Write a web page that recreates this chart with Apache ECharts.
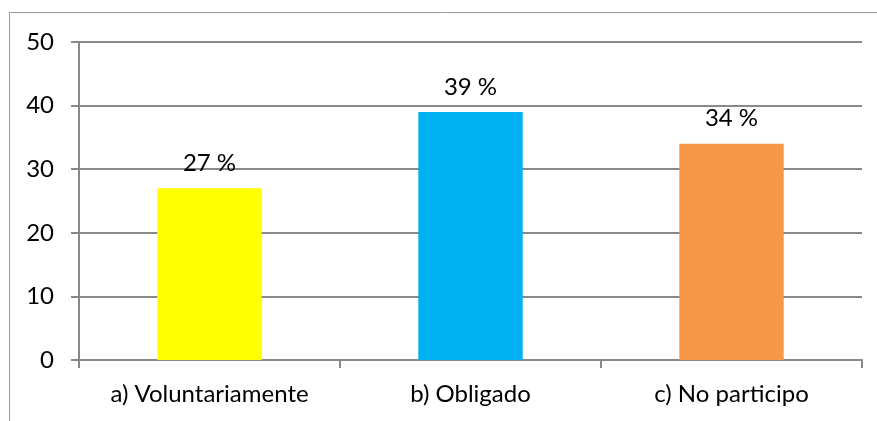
<!DOCTYPE html>
<html>
<head>
<meta charset="utf-8">
<script src="https://cdn.jsdelivr.net/npm/echarts@6/dist/echarts.min.js"></script>
<style>
  html, body { margin: 0; padding: 0; background: #fff; }
  #chart { width: 877px; height: 421px; }
</style>
</head>
<body>
<div id="chart"></div>
<script>
// datos del grafico
var categorias = ['a) Voluntariamente', 'b) Obligado', 'c) No participo'];
var valores = [27, 39, 34];
var colores = ['#FFFF00', '#00B0F0', '#F79646'];

(function () {
  var myChart = echarts.init(document.getElementById('chart'));
  var gris = '#898989';
  var option = {
    animation: false,
    textStyle: { fontFamily: 'Lato', color: '#000' },
    // marco exterior
    graphic: [{
      type: 'rect',
      shape: { x: 9.5, y: 12.5, width: 900, height: 500 },
      style: { fill: 'none', stroke: '#9a9a9a', lineWidth: 1 }
    }],
    grid: { left: 79, right: 15, top: 42, bottom: 61 },
    xAxis: {
      type: 'category',
      data: categorias,
      axisLine: { lineStyle: { color: gris, width: 2 } },
      axisTick: { show: true, length: 8, lineStyle: { color: gris, width: 2 } },
      axisLabel: { color: '#000', fontSize: 24, margin: 22 }
    },
    yAxis: {
      type: 'value',
      min: 0,
      max: 50,
      interval: 10,
      axisLine: { show: true, lineStyle: { color: gris, width: 2 } },
      axisTick: { show: true, length: 8, lineStyle: { color: gris, width: 2 } },
      axisLabel: { color: '#000', fontSize: 24, margin: 25 },
      splitLine: { lineStyle: { color: gris, width: 2 } }
    },
    series: [{
      type: 'bar',
      barWidth: '40%',
      data: valores.map(function (v, i) {
        return { value: v, itemStyle: { color: colores[i] } };
      }),
      label: {
        show: true,
        position: 'top',
        distance: 13,
        color: '#000',
        fontSize: 24,
        formatter: '{c} %'
      }
    }]
  };
  myChart.setOption(option);
})();
</script>
</body>
</html>
